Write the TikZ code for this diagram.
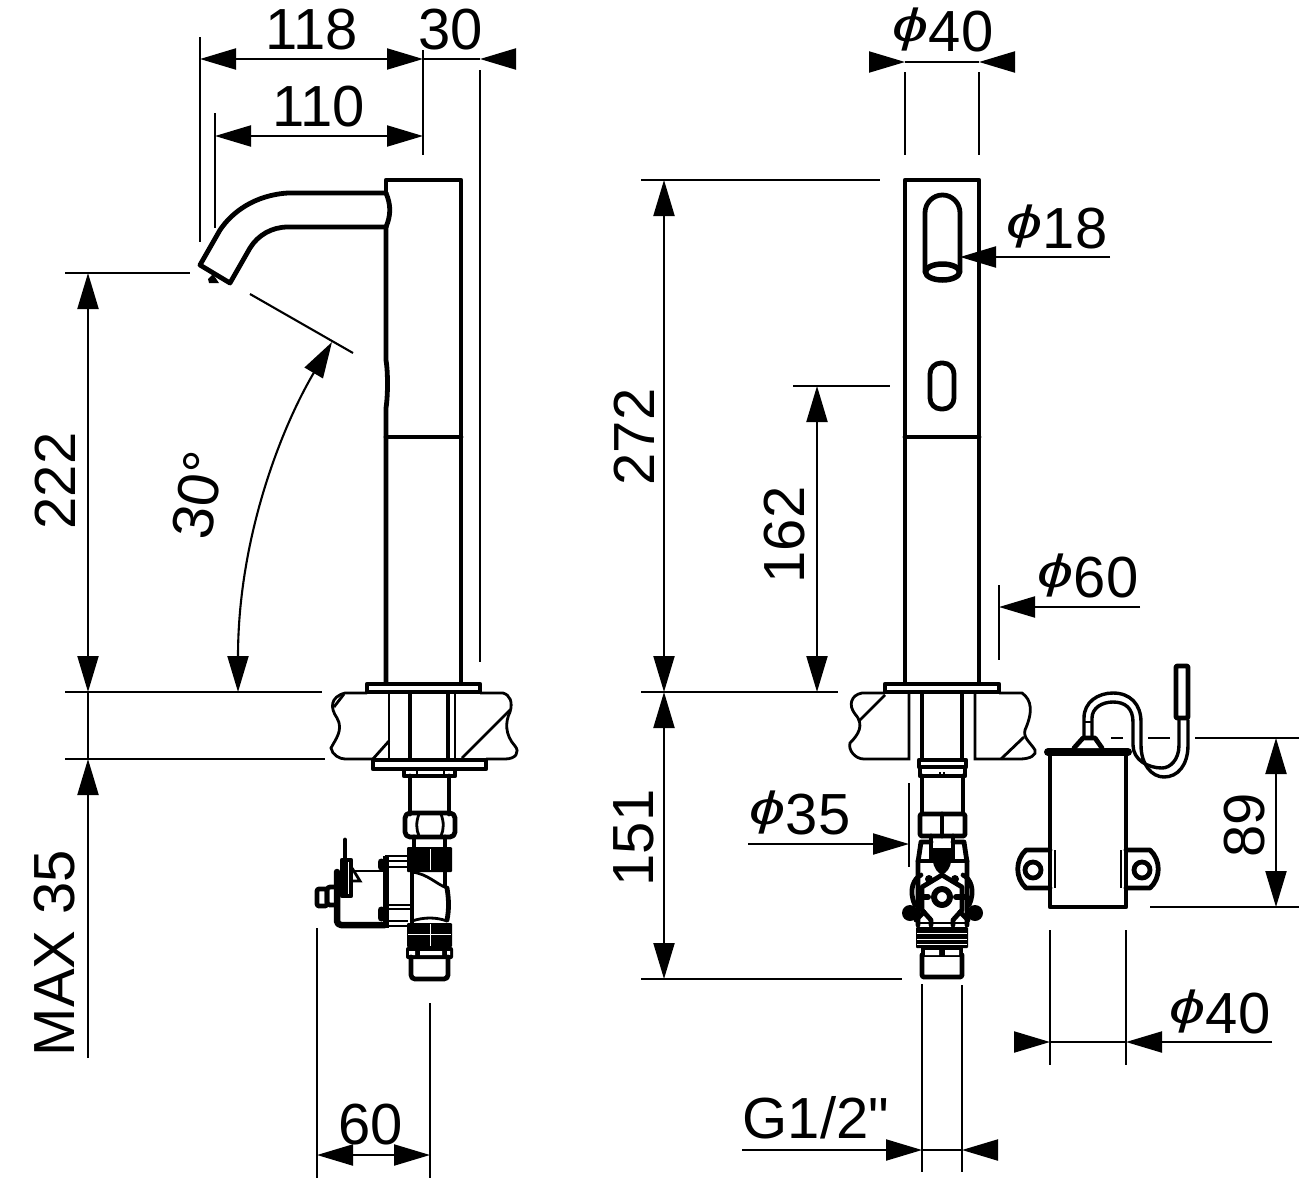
\documentclass[tikz,border=0pt]{standalone}
\usepackage{fontspec}
\setmainfont{Liberation Sans}
\newfontfamily\plainfont{Liberation Sans}
\usetikzlibrary{arrows.meta}
\tikzset{
  obj/.style={line width=4.8pt,line join=round,line cap=round},
  thn/.style={line width=2.8pt},
  dim/.style={line width=2.1pt},
  tip/.style={-{Triangle[length=36pt,width=21pt]},line width=2.1pt},
  tiptwo/.style={{Triangle[length=36pt,width=21pt]}-{Triangle[length=36pt,width=21pt]},line width=2.1pt},
  lab/.style={font=\fontsize{58pt}{58pt}\selectfont,inner sep=0pt}
}
\newcommand{\dia}{\raisebox{.16em}{\scalebox{1.12}[.8]{\textit{ϕ}}}}
\begin{document}
\begin{tikzpicture}[x=1pt,y=-1pt]
\useasboundingbox (0,0) rectangle (1299,1181);

% labels
\node[lab] (l118) at (312,30) {118};
\node[lab] (l30) at (451,30) {30};
\node[lab] (l110) at (319,107) {110};
\node[lab,rotate=90] (l222) at (55,481) {222};
\node[lab,rotate=80] (lang) at (198,495) {30°};
\node[lab,rotate=90] (lmax) at (55,953) {MAX 35};
\node[lab] (l60) at (371,1125) {60};
\node[lab] (ld40) at (943,30) {\dia40};
\node[lab] (ld18) at (1057,227) {\dia18};
\node[lab,rotate=90] (l272) at (634,437) {272};
\node[lab,rotate=90] (l162) at (785,535) {162};
\node[lab] (ld60) at (1088,576) {\dia60};
\node[lab,rotate=90] (l151) at (634,838) {151};
\node[lab] (ld35) at (800,813) {\dia35};
\node[lab] (lg) at (816,1118) {G1/2{\plainfont"}};
\node[lab,rotate=90] (l89) at (1245,825) {89};
\node[lab] (ld40b) at (1220,1012) {\dia40};

% left view: dimensions
\draw[dim] (200,37) -- (200,242);
\draw[dim] (215,113) -- (215,228);
\draw[dim] (423,50) -- (423,155);
\draw[dim] (480,70) -- (480,662);
\draw[tiptwo] (200,59) -- (423,59);
\draw[tip] (515,59) -- (480,59);
\draw[dim] (423,59) -- (480,59);
\draw[tiptwo] (215,136) -- (423,136);
\draw[dim] (65,273) -- (190,273);
\draw[dim] (65,692) -- (322,692);
\draw[dim] (65,759) -- (325,759);
\draw[tiptwo] (88,273) -- (88,692);
\draw[tip] (88,1058) -- (88,759);
\draw[dim] (88,692) -- (88,759);
\draw[dim] (250,294) -- (353,353);
\draw[tiptwo] (332,342) .. controls (280,430) and (238,540) .. (238,692);
\draw[dim] (317,928) -- (317,1178);
\draw[dim] (430,1003) -- (430,1178);
\draw[tiptwo] (317,1155) -- (430,1155);

% left view: column and spout
\draw[obj] (386,193) -- (386,180) -- (461,180) -- (461,683);
\draw[obj] (386,227) -- (386,360) .. controls (388,372) and (388,395) .. (386,408) -- (386,683);
\draw[obj] (386,437) -- (461,437);
\draw[obj] (386,193) .. controls (391,205) and (391,215) .. (386,227);
\draw[obj] (386,193) -- (288,193) .. controls (255,195) and (232,212) .. (220,230) -- (200,265) -- (230,283) -- (250,248) .. controls (258,235) and (272,227) .. (288,227) -- (386,227);
\fill (208,279) -- (213,274) -- (219,283) -- (209,283) -- cycle;

% left view: counter and fixing
\draw[thn] (367,693) -- (345,693) .. controls (330,697) and (330,708) .. (337,718) .. controls (344,730) and (335,740) .. (331,748) .. controls (332,755) and (340,759) .. (345,759) -- (373,759);
\draw[thn] (486,759) -- (505,759) .. controls (516,759) and (520,752) .. (515,746) .. controls (505,735) and (505,722) .. (510,712) .. controls (513,702) and (510,695) .. (503,693) -- (480,693);
\draw[thn] (344,694) -- (334,707);
\draw[thn] (372,760) -- (389,741);
\draw[thn] (462,758) -- (510,710);
\draw[obj,fill=white] (367,684) rectangle (480,692);
\draw[thn] (389,693) -- (389,759);
\draw[obj] (410,693) -- (410,759);
\draw[obj] (448,693) -- (448,759);
\draw[thn] (455,693) -- (455,759);
\draw[obj,fill=white] (373,760) rectangle (486,769);
\draw[obj] (404,770) -- (404,776) -- (455,776) -- (455,770);
\draw[thn] (417,770) -- (417,776) (444,770) -- (444,776);
\draw[obj] (410,776) -- (410,814) (449,776) -- (449,814);
\draw[obj,rounded corners=5pt] (405,813) rectangle (455,837);
\draw[thn] (419,814) .. controls (416,822) and (416,829) .. (419,836) (441,814) .. controls (444,822) and (444,829) .. (441,836);
\draw[obj] (414,837) -- (414,848) (445,837) -- (445,848);
\fill[rounded corners=1pt] (407,847) rectangle (452,872);
\draw[white,line width=0.8pt] (430,849) -- (430,870);
\draw[obj] (412,870) -- (412,922) (445,870) -- (445,886);
\draw[thn] (412,872) .. controls (428,874) and (436,884) .. (447,888);
\draw[obj] (447,888) .. controls (449,900) and (449,910) .. (447,920);
\draw[thn] (412,921) .. controls (424,917) and (436,917) .. (447,921);
\fill[rounded corners=1pt] (407,923) rectangle (452,947);
\draw[white,line width=0.8pt] (408,934) -- (451,934) (430,924) -- (430,946);
\fill[rounded corners=2pt] (406,947) rectangle (453,959);
\fill[white] (409,951) rectangle (415,955) (420,951) rectangle (442,955) (447,951) rectangle (450,955);
\draw[obj,rounded corners=4pt] (411,957) -- (411,979) -- (448,979) -- (448,957);

% left view: solenoid
\draw[obj] (345,840) -- (345,860);
\draw[thn] (353,871) -- (383,871);
\draw[obj] (342,860) -- (351,860) -- (351,896) -- (342,896) -- cycle;
\fill (342,860) rectangle (348,896);
\draw[thn] (352,868) -- (360,881) -- (351,881);
\draw[obj,line width=6.5pt,rounded corners=4pt] (337,872) -- (337,925) -- (385,925);
\draw[obj,rounded corners=3pt] (336,887) -- (327,887) -- (327,905) -- (336,905);
\draw[obj,rounded corners=2pt] (327,889) rectangle (317,906);
\draw[line width=6pt] (386,856) -- (386,928);
\draw[line width=7pt,line cap=round] (381,862) -- (381,867) (381,910) -- (381,918);
\draw[thn] (385,856) -- (408,856) (387,861) -- (408,861) (387,867) -- (408,867);
\draw[thn] (385,905) -- (412,905) (385,909) -- (412,909) (385,921) -- (408,921) (385,926) -- (408,926);

% right view: dimensions
\draw[dim] (905,72) -- (905,155);
\draw[dim] (979,72) -- (979,155);
\draw[tip] (869,62) -- (905,62);
\draw[tip] (1015,62) -- (979,62);
\draw[dim] (905,62) -- (979,62);
\draw[tip] (1110,257) -- (960,257);
\draw[dim] (641,180) -- (880,180);
\draw[dim] (641,692) -- (838,692);
\draw[dim] (793,386) -- (890,386);
\draw[dim] (641,979) -- (902,979);
\draw[tiptwo] (664,180) -- (664,692);
\draw[tiptwo] (664,692) -- (664,979);
\draw[tiptwo] (817,386) -- (817,692);
\draw[dim] (999,585) -- (999,660);
\draw[tip] (1140,607) -- (999,607);
\draw[dim] (909,783) -- (909,867);
\draw[tip] (748,844) -- (909,844);
\draw[dim] (922,984) -- (922,1172);
\draw[dim] (962,985) -- (962,1172);
\draw[tip] (742,1150) -- (922,1150);
\draw[tip] (997,1150) -- (962,1150);
\draw[dim] (922,1150) -- (962,1150);
\draw[dim] (1050,930) -- (1050,1065);
\draw[dim] (1126,930) -- (1126,1065);
\draw[tip] (1014,1042) -- (1050,1042);
\draw[tip] (1272,1042) -- (1126,1042);
\draw[dim] (1050,1042) -- (1126,1042);
\draw[dim] (1195,738) -- (1299,738);
\draw[dim] (1111,738) -- (1123,738);
\draw[dim] (1148,738) -- (1170,738);
\draw[dim] (1150,907) -- (1299,907);
\draw[tiptwo] (1276,738) -- (1276,907);

% right view: column
\draw[obj] (905,683) -- (905,180) -- (979,180) -- (979,683);
\draw[obj] (905,437) -- (979,437);
\draw[obj] (925,272) -- (925,213) arc (180:360:17.5 and 18) -- (960,272);
\draw[obj,line width=5.5pt] (942.5,272) ellipse (17 and 8);
\draw[obj,rounded corners=11pt] (930,363) rectangle (954,409);

% right view: counter and fixing
\draw[thn] (885,693) -- (862,693) .. controls (851,695) and (848,705) .. (855,714) .. controls (865,725) and (858,735) .. (850,743) .. controls (848,750) and (855,759) .. (864,759) -- (909,759) -- (909,693);
\draw[thn] (975,693) -- (975,759) -- (1020,759) .. controls (1030,759) and (1037,755) .. (1035,750) .. controls (1030,742) and (1023,738) .. (1025,730) .. controls (1033,712) and (1032,700) .. (1022,693) -- (999,693);
\draw[thn] (885,695) -- (859,721);
\draw[thn] (1001,759) -- (1024,737);
\draw[obj,fill=white] (885,684) rectangle (999,692);
\draw[obj] (922,693) -- (922,759) (962,693) -- (962,759);
\draw[obj,fill=white] (919,760) rectangle (966,767);
\draw[obj,fill=white] (920,767) rectangle (965,776);
\draw[thn] (940,772) -- (940,776) (944,772) -- (944,776);
\draw[obj] (922,776) -- (922,813) (963,776) -- (963,813);
\draw[obj,fill=white,rounded corners=2pt] (920,814) rectangle (965,836);
\draw[obj] (942,814) -- (942,836);

% right view: valve
\draw[obj] (918,925) -- (918,862) -- (921,842) -- (931,842) (953,842) -- (964,842) -- (967,862) -- (967,925);
\draw[obj] (931,836) -- (931,858) (953,836) -- (953,858);
\draw[obj] (918,861) -- (932,861) (952,861) -- (967,861);
\fill (933,848) rectangle (951,860);
\fill (933,860) .. controls (933,868) and (938,873) .. (942,875) .. controls (946,873) and (951,868) .. (951,860) -- cycle;
\draw[obj] (942,875) -- (922,887) -- (922,910) -- (931,920) -- (931,925) (942,875) -- (962,887) -- (962,910) -- (953,920) -- (953,925);
\draw[obj,line width=6pt] (942,897) circle (8);
\draw[obj,line width=6pt] (919,897) -- (928,897) (956,897) -- (965,897);
\fill (929,879) circle (4) (955,879) circle (4);
\draw[obj] (915,905) .. controls (908,890) and (914,878) .. (921,875) (969,905) .. controls (976,890) and (970,878) .. (963,875);
\fill (910,913) circle (8) (975,913) circle (8);
\draw[obj] (916,920) -- (924,912) (968,920) -- (960,912);
\draw[thn] (918,923) -- (967,923);
\fill[rounded corners=1pt] (916,927) rectangle (968,948);
\draw[white,line width=0.8pt] (917,933) -- (967,933) (917,939) -- (967,939) (917,944) -- (967,944);
\fill (921,948) rectangle (963,957);
\fill[white] (925,950) rectangle (939,955) (945,950) rectangle (959,955);
\draw[obj,rounded corners=2pt] (922,955) -- (922,977) -- (962,977) -- (962,955);

% control box
\draw[obj] (1050,753) -- (1050,907) -- (1126,907) -- (1126,753);
\draw[line width=8pt,line cap=round] (1048,752) -- (1128,752);
\draw[obj,fill=white] (1074,748) -- (1083,738) -- (1095,738) -- (1102,748);
\draw[obj] (1050,850) -- (1026,850) .. controls (1015,860) and (1015,878) .. (1026,888) -- (1050,888);
\draw[obj] (1126,850) -- (1150,850) .. controls (1161,860) and (1161,878) .. (1150,888) -- (1126,888);
\draw[thn] (1055,850) -- (1055,888) (1121,850) -- (1121,888);
\draw[obj] (1033,870) circle (8);
\draw[obj] (1142,870) circle (8);

% cable and sensor
\draw[obj,line width=3.4pt] (1084,738) -- (1084,718) .. controls (1084,702) and (1098,693) .. (1113,693) .. controls (1130,693) and (1141,704) .. (1141,722) -- (1141,745) .. controls (1141,765) and (1152,777) .. (1164,777) .. controls (1178,777) and (1188,765) .. (1188,745) -- (1188,720);
\draw[obj,line width=3.4pt] (1092,738) -- (1092,718) .. controls (1092,708) and (1102,702) .. (1113,702) .. controls (1125,702) and (1133,708) .. (1133,722) -- (1133,745) .. controls (1133,760) and (1148,768) .. (1162,768) .. controls (1170,768) and (1179,760) .. (1179,745) -- (1179,720);
\draw[thn] (1084,722) -- (1092,722);
\draw[obj,fill=white,rounded corners=1pt] (1176,666) rectangle (1188,718);
\end{tikzpicture}
\end{document}
